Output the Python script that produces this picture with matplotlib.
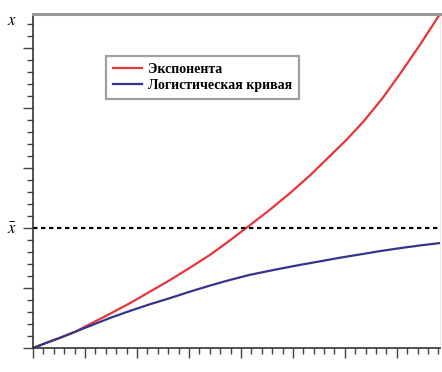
import numpy as np
import matplotlib
matplotlib.use('Agg')
import matplotlib.pyplot as plt
from matplotlib.ticker import MultipleLocator, NullFormatter

# time values and population for the exponential curve
t_exp = [0, 0.33, 0.52, 0.81, 1.10, 1.48, 1.87, 2.25, 2.63, 3.02, 3.40,
         3.75, 4.10, 4.52, 4.94, 5.33, 5.71, 6.04, 6.35, 6.71, 7.06, 7.44, 7.83]
x_exp = [0, 0.11, 0.17, 0.27, 0.40, 0.57, 0.75, 0.94, 1.13, 1.34, 1.55,
         1.77, 2.00, 2.28, 2.58, 2.88, 3.20, 3.48, 3.77, 4.15, 4.57, 5.05, 5.57]

# logistic curve
t_log = [0, 0.33, 0.52, 0.81, 1.10, 1.48, 1.87, 2.25, 2.63, 3.02, 3.40,
         3.79, 4.17, 4.65, 5.13, 5.52, 5.90, 6.29, 6.67, 7.06, 7.44, 7.83]
x_log = [0, 0.11, 0.17, 0.27, 0.37, 0.50, 0.62, 0.73, 0.83, 0.94, 1.04,
         1.135, 1.22, 1.305, 1.385, 1.445, 1.505, 1.56, 1.615, 1.665, 1.71, 1.75]

x_bar = 2.0
labels = ['Экспонента', 'Логистическая кривая']

plt.rcParams['mathtext.fontset'] = 'stix'

fig = plt.figure(figsize=(4.42, 3.72), dpi=100)
ax = fig.add_axes([33/442, 24/372, 407/442, 334/372])

ax.plot(t_exp, x_exp, color='#e8343a', lw=1.6, label=labels[0])
ax.plot(t_log, x_log, color='#35348a', lw=1.6, label=labels[1])
ax.axhline(x_bar, color='black', lw=1.6, ls=(0, (2, 1.6)))

ax.set_xlim(0, 7.83)
ax.set_ylim(0, 5.57)

ax.xaxis.set_major_locator(MultipleLocator(1))
ax.xaxis.set_minor_locator(MultipleLocator(0.2))
ax.yaxis.set_major_locator(MultipleLocator(1))
ax.yaxis.set_minor_locator(MultipleLocator(0.2))
ax.xaxis.set_major_formatter(NullFormatter())
ax.yaxis.set_major_formatter(NullFormatter())
ax.tick_params(which='major', length=7, width=1, color='#444444')
ax.tick_params(which='minor', length=4, width=1, color='#444444')

ax.spines['top'].set_color('#999999')
ax.spines['top'].set_linewidth(2.2)
ax.spines['right'].set_color('#eeeeee')
ax.spines['right'].set_linewidth(0.8)
ax.spines['left'].set_color('#333333')
ax.spines['bottom'].set_color('#333333')
ax.spines['left'].set_linewidth(1.2)
ax.spines['bottom'].set_linewidth(1.2)

fig.text(12/442, 1 - 20/372, r'$x$', fontsize=12, ha='center', va='center')
fig.text(12/442, 1 - 229/372, r'$\bar{x}$', fontsize=12, ha='center', va='center')

leg = ax.legend(loc='upper left', bbox_to_anchor=((99-33)/407, (348-49)/334),
                frameon=True, fancybox=False, borderpad=0.5, handlelength=2.1,
                handletextpad=0.4, labelspacing=0.25,
                prop={'family': 'Liberation Serif', 'weight': 'bold', 'size': 10})
leg.get_frame().set_edgecolor('#888888')
leg.get_frame().set_linewidth(1.6)

fig.savefig('out.png', dpi=100)
